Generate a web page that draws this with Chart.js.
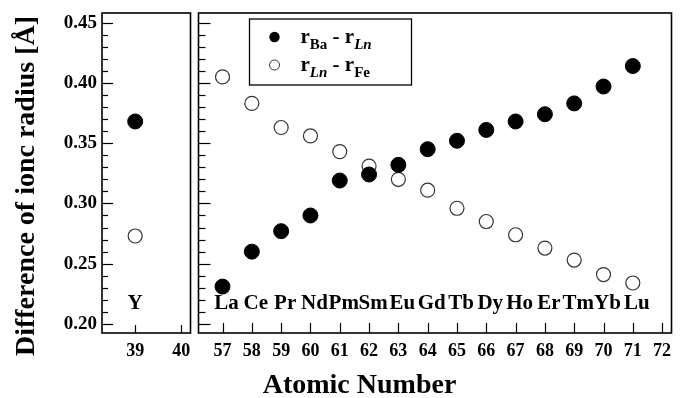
<!DOCTYPE html>
<html>
<head>
<meta charset="utf-8">
<script src="https://cdn.jsdelivr.net/npm/chart.js@4.4.1/dist/chart.umd.min.js"></script>
<style>
  html, body { margin: 0; padding: 0; background: #fff; }
  #wrap { position: relative; width: 680px; height: 398px; overflow: hidden; }
  canvas { position: absolute; top: 0; }
</style>
</head>
<body>
<div id="wrap">
  <canvas id="left" width="199" height="398" style="left:0px"></canvas>
  <canvas id="right" width="490" height="398" style="left:190px"></canvas>
</div>
<script>
// Y (left panel)
const yAtomic = [39]
const yNames = ['Y']
const yBaLn = [0.368]
const yLnFe = [0.273]

// lanthanides (right panel)
const lnAtomic = [57, 58, 59, 60, 61, 62, 63, 64, 65, 66, 67, 68, 69, 70, 71]
const lnNames = ['La', 'Ce', 'Pr', 'Nd', 'Pm', 'Sm', 'Eu', 'Gd', 'Tb', 'Dy', 'Ho', 'Er', 'Tm', 'Yb', 'Lu']
const baLn = [0.231, 0.260, 0.277, 0.290, 0.319, 0.324, 0.332, 0.345, 0.352, 0.361, 0.368, 0.374, 0.383, 0.397, 0.414]
const lnFe = [0.405, 0.383, 0.363, 0.356, 0.343, 0.331, 0.320, 0.311, 0.296, 0.285, 0.274, 0.263, 0.253, 0.241, 0.234]

const leftTicks = [39, 40]
const rightTicks = [57, 58, 59, 60, 61, 62, 63, 64, 65, 66, 67, 68, 69, 70, 71, 72]
const yTicks = [0.20, 0.25, 0.30, 0.35, 0.40, 0.45]

const serif = "'Liberation Serif', 'Times New Roman', serif"
const Y_MIN = 0.1925
const Y_MAX = 0.458

const toPoints = (xs, ys) => xs.map((x, i) => ({ x: x, y: ys[i] }))

function filledSet(xs, ys) {
  return {
    label: 'rBa - rLn', data: toPoints(xs, ys),
    pointRadius: 7.5, pointHoverRadius: 7.5,
    backgroundColor: '#000', borderColor: '#000', borderWidth: 1
  }
}
function openSet(xs, ys) {
  return {
    label: 'rLn - rFe', data: toPoints(xs, ys),
    pointRadius: 7, pointHoverRadius: 7,
    backgroundColor: '#fff', borderColor: '#333', borderWidth: 1.2
  }
}

// frame, inward ticks and element names
const framePlugin = {
  id: 'frame',
  afterDatasetsDraw(chart, args, opts) {
    const { ctx, chartArea: a, scales } = chart
    ctx.save()
    ctx.strokeStyle = '#000'
    ctx.lineWidth = 1.2
    for (let i = 20; i <= 45; i++) {
      const y = Math.round(scales.y.getPixelForValue(i / 100)) + 0.5
      const len = i % 5 === 0 ? opts.major : opts.minor
      ctx.beginPath()
      ctx.moveTo(a.left, y)
      ctx.lineTo(a.left + len, y)
      ctx.stroke()
    }
    scales.x.ticks.forEach(t => {
      const x = Math.round(scales.x.getPixelForValue(t.value)) + 0.5
      ctx.beginPath()
      ctx.moveTo(x, a.bottom)
      ctx.lineTo(x, a.bottom - opts.xLen)
      ctx.stroke()
    })
    ctx.lineWidth = 1.6
    ctx.strokeRect(a.left, a.top, a.right - a.left, a.bottom - a.top)

    ctx.fillStyle = '#000'
    ctx.font = 'bold 21px ' + serif
    ctx.textAlign = 'center'
    ctx.textBaseline = 'alphabetic'
    opts.names.forEach((n, i) => {
      ctx.fillText(n, scales.x.getPixelForValue(opts.atoms[i]) + opts.shift, a.bottom - 24)
    })
    ctx.restore()
  }
}

function runs(ctx, x, y, parts) {
  parts.forEach(p => {
    ctx.font = p.f
    ctx.fillText(p.t, x, y + (p.dy || 0))
    x += ctx.measureText(p.t).width
  })
}

const legendPlugin = {
  id: 'ionLegend',
  afterDraw(chart) {
    const { ctx, chartArea: a } = chart
    const bx = a.left + 51, by = a.top + 6
    ctx.save()
    ctx.strokeStyle = '#000'
    ctx.lineWidth = 1.3
    ctx.strokeRect(bx, by, 162, 66)
    ctx.beginPath()
    ctx.arc(bx + 25, by + 18, 5.2, 0, Math.PI * 2)
    ctx.fillStyle = '#000'
    ctx.fill()
    ctx.beginPath()
    ctx.arc(bx + 25, by + 46, 5, 0, Math.PI * 2)
    ctx.fillStyle = '#fff'
    ctx.fill()
    ctx.strokeStyle = '#333'
    ctx.lineWidth = 1
    ctx.stroke()

    ctx.fillStyle = '#000'
    ctx.textAlign = 'left'
    ctx.textBaseline = 'alphabetic'
    const main = 'bold 21px ' + serif
    const sub = 'bold 15px ' + serif
    const subIt = 'italic bold 15px ' + serif
    runs(ctx, bx + 51, by + 24, [
      { t: 'r', f: main }, { t: 'Ba', f: sub, dy: 6 }, { t: ' - ', f: main },
      { t: 'r', f: main }, { t: 'Ln', f: subIt, dy: 6 }
    ])
    runs(ctx, bx + 51, by + 52, [
      { t: 'r', f: main }, { t: 'Ln', f: subIt, dy: 6 }, { t: ' - ', f: main },
      { t: 'r', f: main }, { t: 'Fe', f: sub, dy: 6 }
    ])

    ctx.font = 'bold 28px ' + serif
    ctx.textAlign = 'center'
    ctx.fillText('Atomic Number', a.left + 161, 393)
    ctx.restore()
  }
}

const yTitlePlugin = {
  id: 'yTitle',
  afterDraw(chart) {
    const ctx = chart.ctx
    ctx.save()
    ctx.translate(34, 186)
    ctx.rotate(-Math.PI / 2)
    ctx.fillStyle = '#000'
    ctx.font = 'bold 28px ' + serif
    ctx.textAlign = 'center'
    ctx.textBaseline = 'alphabetic'
    ctx.fillText('Difference of ionc radius [Å]', 0, 0)
    ctx.restore()
  }
}

function xScale(min, max, ticks) {
  return {
    type: 'linear', min: min, max: max,
    afterBuildTicks: s => { s.ticks = ticks.map(v => ({ value: v })) },
    afterFit: s => { s.height = 65; s.paddingLeft = 0; s.paddingRight = 0 },
    grid: { display: false, drawTicks: false },
    border: { display: false },
    ticks: { color: '#000', padding: 8, font: { family: serif, size: 18, weight: 'bold' } }
  }
}

const yScaleLeft = {
  type: 'linear', min: Y_MIN, max: Y_MAX,
  afterBuildTicks: s => { s.ticks = yTicks.map(v => ({ value: v })) },
  afterFit: s => { s.width = 102; s.paddingTop = 0; s.paddingBottom = 0 },
  grid: { display: false, drawTicks: false },
  border: { display: false },
  ticks: {
    color: '#000', padding: 5, font: { family: serif, size: 19, weight: 'bold' },
    callback: v => v.toFixed(2)
  }
}

const common = {
  responsive: false,
  animation: false,
  events: [],
  plugins: { legend: { display: false }, tooltip: { enabled: false } }
}

new Chart(document.getElementById('left'), {
  type: 'scatter',
  data: { datasets: [filledSet(yAtomic, yBaLn), openSet(yAtomic, yLnFe)] },
  options: Object.assign({}, common, {
    layout: { padding: { top: 13, right: 1, left: 0, bottom: 0 } },
    scales: { x: xScale(38.28, 40.2, leftTicks), y: yScaleLeft },
    plugins: Object.assign({}, common.plugins, {
      frame: { major: 11, minor: 6, xLen: 8, names: yNames, atoms: yAtomic, shift: 0 }
    })
  }),
  plugins: [framePlugin, yTitlePlugin]
})

new Chart(document.getElementById('right'), {
  type: 'scatter',
  data: { datasets: [filledSet(lnAtomic, baLn), openSet(lnAtomic, lnFe)] },
  options: Object.assign({}, common, {
    layout: { padding: { top: 13, right: 6, left: 8, bottom: 0 } },
    scales: {
      x: xScale(56.18, 72.32, rightTicks),
      y: { type: 'linear', display: false, min: Y_MIN, max: Y_MAX }
    },
    plugins: Object.assign({}, common.plugins, {
      frame: { major: 12, minor: 7, xLen: 10, names: lnNames, atoms: lnAtomic, shift: 4 }
    })
  }),
  plugins: [framePlugin, legendPlugin]
})
</script>
</body>
</html>
